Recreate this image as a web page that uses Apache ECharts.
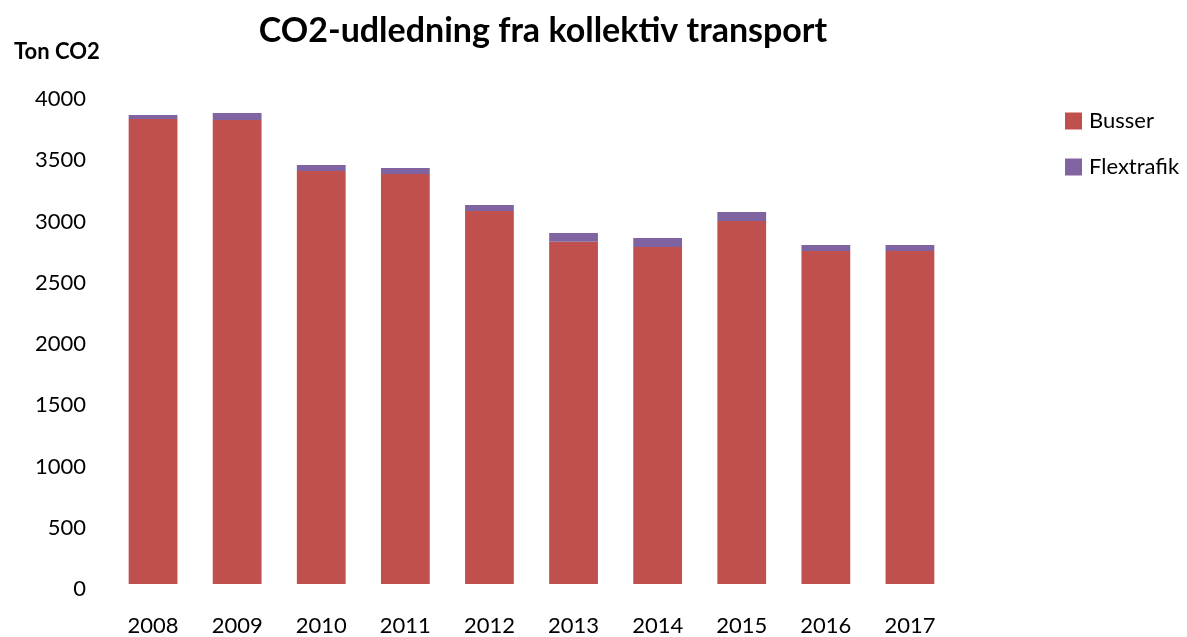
<!DOCTYPE html>
<html>
<head>
<meta charset="utf-8">
<script src="https://cdn.jsdelivr.net/npm/echarts@6/dist/echarts.min.js"></script>
<style>
  html, body { margin: 0; padding: 0; background: #fff; }
  #chart { width: 1187px; height: 637px; }
</style>
</head>
<body>
<div id="chart"></div>
<script>
// data
var years = ['2008', '2009', '2010', '2011', '2012', '2013', '2014', '2015', '2016', '2017'];
var busser = [3796, 3788, 3371, 3347, 3045, 2794, 2751, 2963, 2718, 2718];
var flextrafik = [33, 57, 50, 49, 49, 71, 73, 74, 49, 49];
var yTicks = [0, 500, 1000, 1500, 2000, 2500, 3000, 3500, 4000];

var font = 'Lato, "Open Sans", sans-serif';
var chart = echarts.init(document.getElementById('chart'));

var option = {
    animation: false,
    title: [{
        text: 'CO2-udledning fra kollektiv transport',
        left: 538,
        top: 9,
        textAlign: 'center',
        textStyle: { fontFamily: font, fontSize: 34, fontWeight: 'bold', color: '#000' }
    }, {
        text: 'Ton CO2',
        left: 9,
        top: 36,
        textStyle: { fontFamily: font, fontSize: 22, fontWeight: 'bold', color: '#000' }
    }],
    legend: {
        orient: 'vertical',
        left: 1060,
        top: 105,
        itemWidth: 17,
        itemHeight: 17,
        itemGap: 24,
        icon: 'rect',
        textStyle: { fontFamily: font, fontSize: 22, color: '#000', padding: [0, 0, 0, 2] },
        data: ['Busser', 'Flextrafik']
    },
    grid: { left: 111, right: 235, top: 94, bottom: 53 },
    xAxis: {
        type: 'category',
        data: years,
        axisLine: { show: false },
        axisTick: { show: false },
        axisLabel: { fontFamily: font, fontSize: 22, color: '#000', margin: 31 }
    },
    yAxis: {
        type: 'value',
        min: yTicks[0],
        max: yTicks[yTicks.length - 1],
        interval: 500,
        splitLine: { show: false },
        axisLine: { show: false },
        axisTick: { show: false },
        axisLabel: {
            fontFamily: font, fontSize: 22, color: '#000', margin: 25,
            verticalAlign: 'top', padding: [-6, 0, 0, 0],
            formatter: function (v) { return String(v); }
        }
    },
    series: [{
        name: 'Busser',
        type: 'bar',
        stack: 'total',
        barCategoryGap: '42%',
        itemStyle: { color: '#C0504D' },
        data: busser
    }, {
        name: 'Flextrafik',
        type: 'bar',
        stack: 'total',
        barCategoryGap: '42%',
        itemStyle: { color: '#8064A2' },
        data: flextrafik
    }]
};
chart.setOption(option);
</script>
</body>
</html>
